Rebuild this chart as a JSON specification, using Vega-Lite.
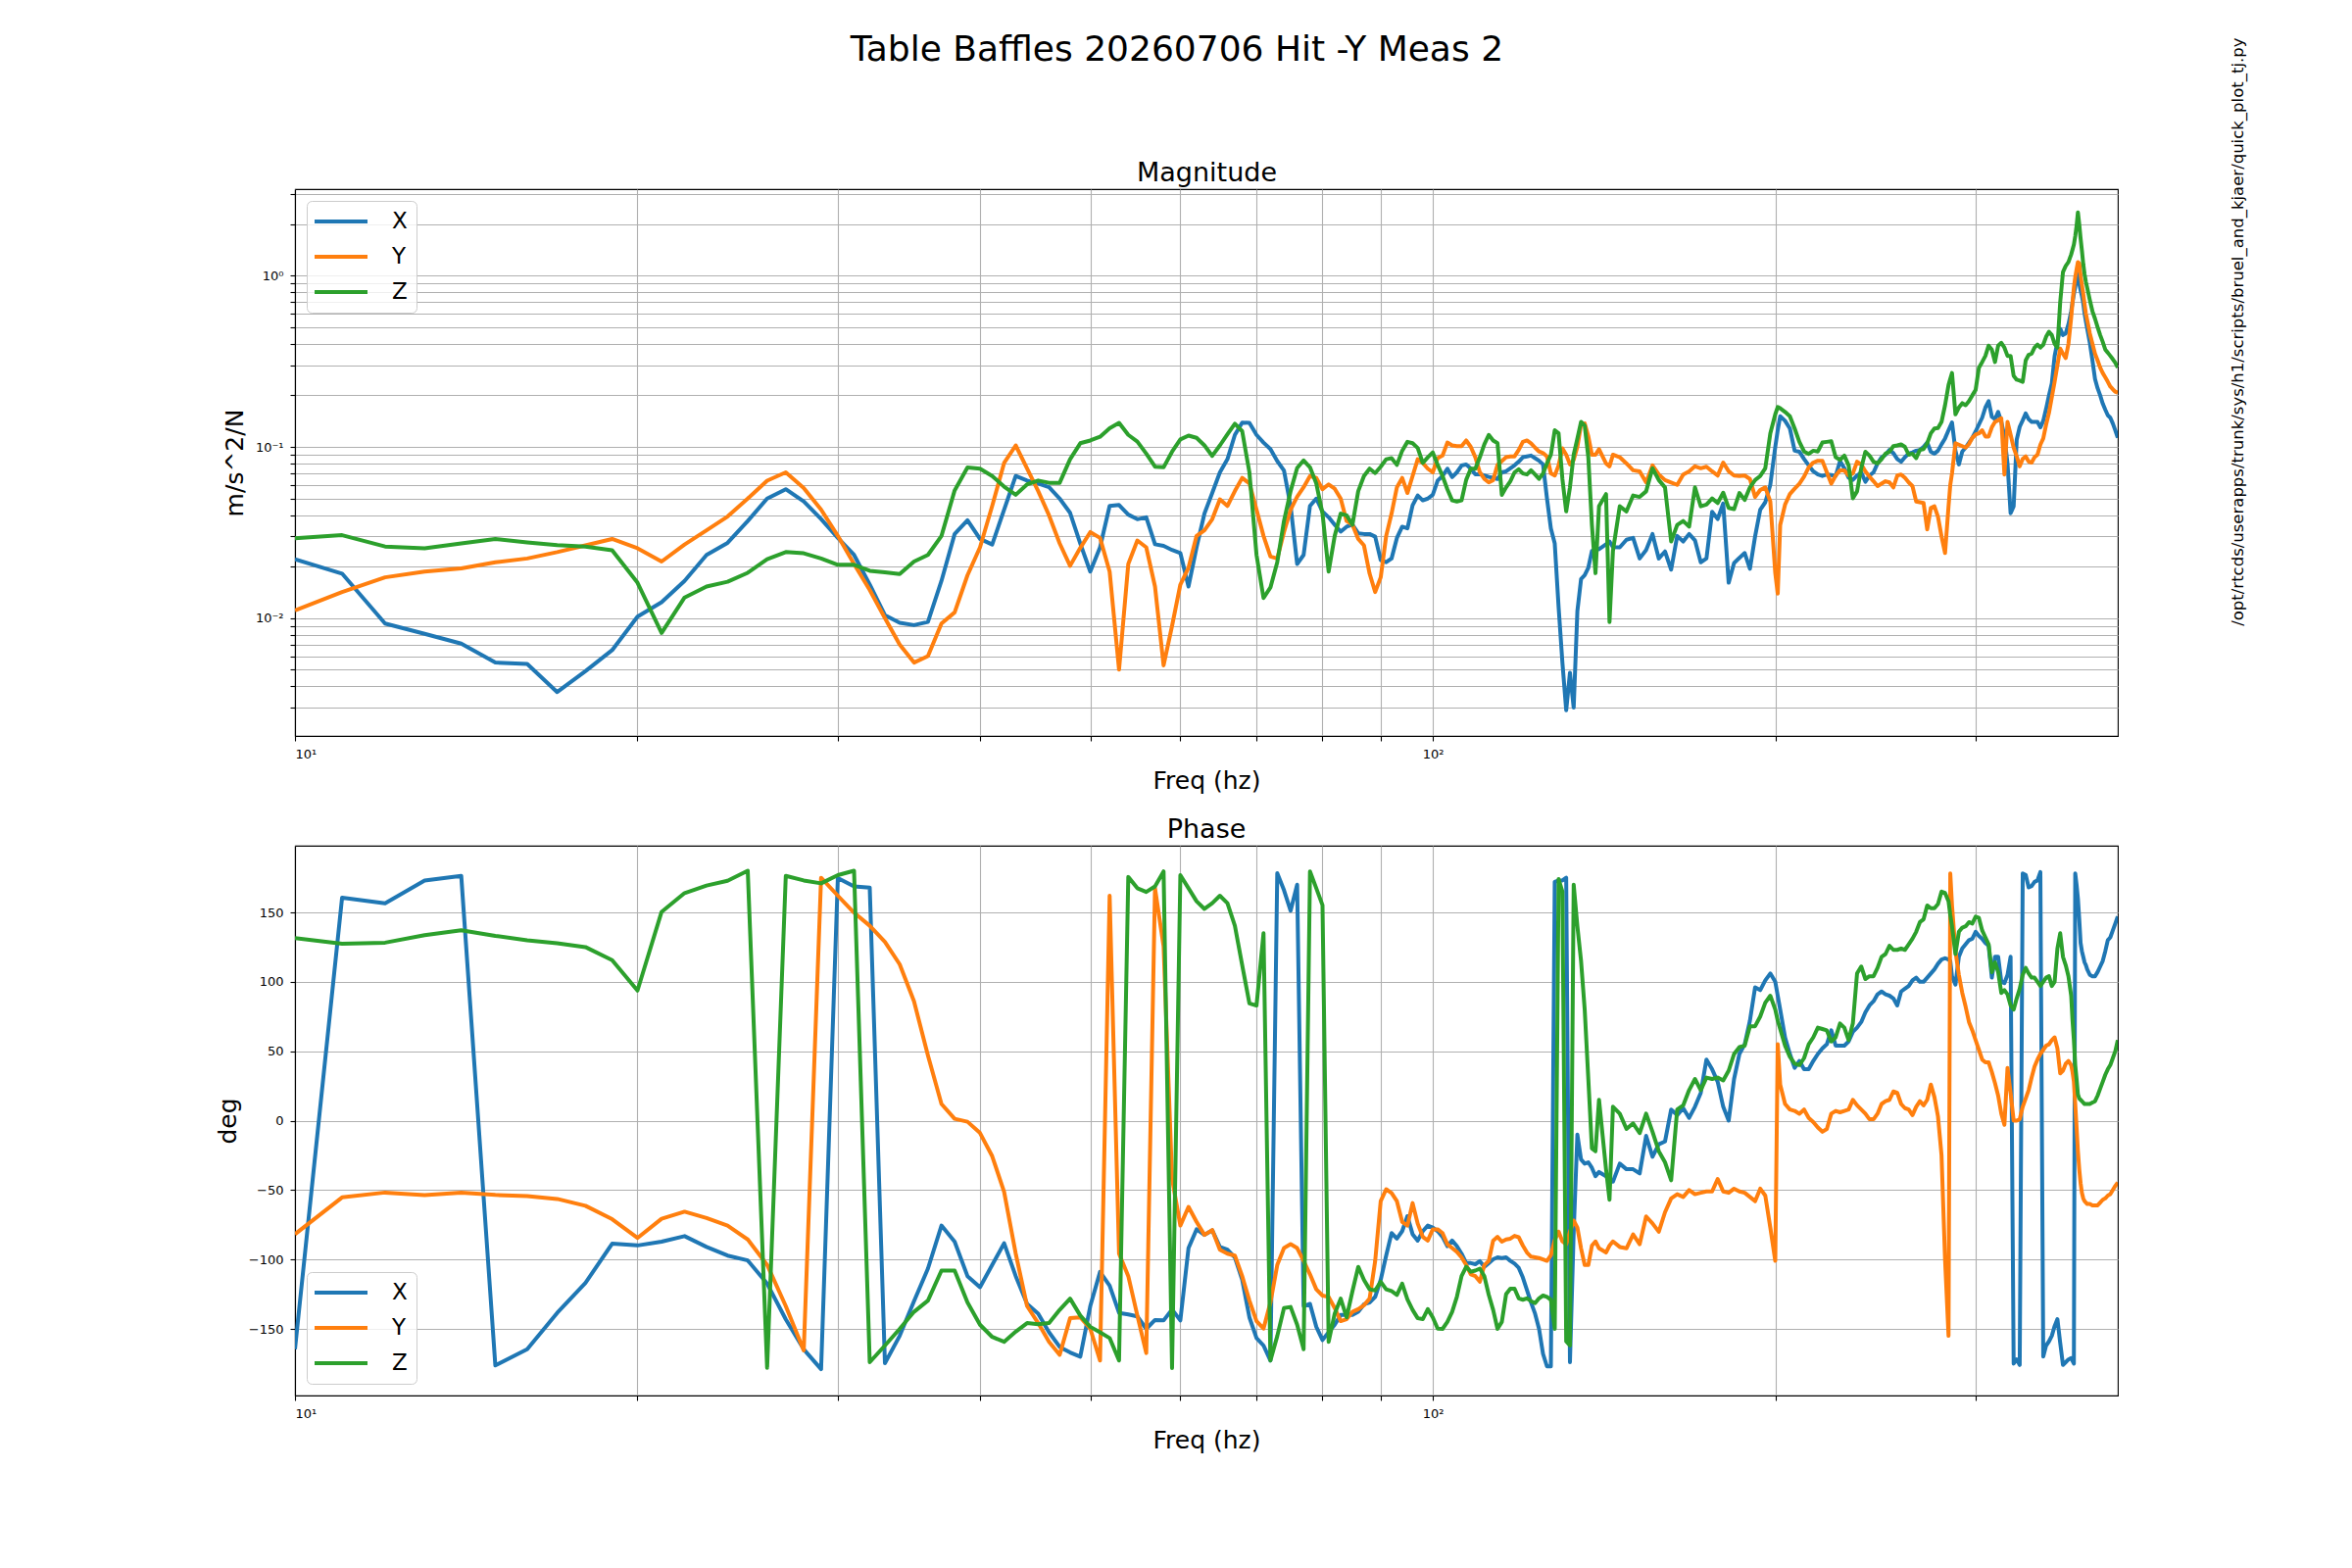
{
  "$schema": "https://vega.github.io/schema/vega-lite/v6.json",
  "background": "white",
  "padding": {"left": 219, "top": 33, "right": 10, "bottom": 10},
  "title": {"text": "Table Baffles 20260706 Hit -Y Meas 2", "fontSize": 36, "fontWeight": "normal", "font": "DejaVu Sans", "anchor": "middle", "offset": -33, "dx": -55},
  "config": {
    "font": "DejaVu Sans",
    "view": {"stroke": "#000000", "strokeWidth": 1.1},
    "axis": {
      "grid": true, "gridColor": "#b0b0b0", "gridWidth": 1.1,
      "domainColor": "#000000", "domainWidth": 1.1,
      "tickColor": "#000000", "tickWidth": 1.1, "tickSize": 5,
      "labelColor": "#000000", "labelFontSize": 13, "labelPadding": 7, "labelOverlap": false, "labelFont": "DejaVu Sans",
      "titleColor": "#000000", "titleFontSize": 25, "titleFontWeight": "normal", "titleFont": "DejaVu Sans"
    },
    "title": {"font": "DejaVu Sans", "fontSize": 27, "fontWeight": "normal", "color": "#000000"},
    "legend": {
      "title": null, "symbolType": "M-2.7,0H2.7", "symbolSize": 400, "symbolStrokeWidth": 4, "symbolOffset": 14,
      "labelFontSize": 23, "labelFont": "DejaVu Sans", "labelColor": "#000000", "labelOffset": 40,
      "rowPadding": 12, "padding": 9, "offset": 12,
      "strokeColor": "#cccccc", "fillColor": "rgba(255,255,255,0.8)", "cornerRadius": 5
    }
  },
  "datasets": {
    "mag": [
      {"f":10,"X":0.0221,"Y":0.0111,"Z":0.0293},{"f":11,"X":0.0182,"Y":0.0142,"Z":0.0305},{"f":12,"X":0.0093,"Y":0.0173,"Z":0.0262},
      {"f":13,"X":0.0081,"Y":0.0187,"Z":0.0256},{"f":14,"X":0.0071,"Y":0.0195,"Z":0.0273},{"f":15,"X":0.0055,"Y":0.0212,"Z":0.029},
      {"f":16,"X":0.0054,"Y":0.0223,"Z":0.0277},{"f":17,"X":0.0037,"Y":0.0243,"Z":0.0267},{"f":18,"X":0.0049,"Y":0.0266,"Z":0.0262},
      {"f":19,"X":0.0065,"Y":0.029,"Z":0.0249},{"f":20,"X":0.0102,"Y":0.0256,"Z":0.0161},{"f":21,"X":0.0124,"Y":0.0214,"Z":0.0082},
      {"f":22,"X":0.0165,"Y":0.0269,"Z":0.0132},{"f":23,"X":0.0234,"Y":0.0326,"Z":0.0153},{"f":24,"X":0.0275,"Y":0.0392,"Z":0.0163},
      {"f":25,"X":0.0369,"Y":0.0499,"Z":0.0184},{"f":26,"X":0.0499,"Y":0.0635,"Z":0.0221},{"f":27,"X":0.0566,"Y":0.071,"Z":0.0243},
      {"f":28,"X":0.048,"Y":0.0575,"Z":0.0239},{"f":29,"X":0.0379,"Y":0.043,"Z":0.0223},{"f":30,"X":0.0294,"Y":0.0302,"Z":0.0205},
      {"f":31,"X":0.0234,"Y":0.0207,"Z":0.0205},{"f":32,"X":0.0157,"Y":0.0146,"Z":0.0189},{"f":33,"X":0.0104,"Y":0.01,"Z":0.0185},
      {"f":34,"X":0.0094,"Y":0.007,"Z":0.0181},{"f":35,"X":0.0091,"Y":0.0055,"Z":0.0214},{"f":36,"X":0.0095,"Y":0.006,"Z":0.0234},
      {"f":37,"X":0.0165,"Y":0.0093,"Z":0.0302},{"f":38,"X":0.031,"Y":0.0108,"Z":0.0557},{"f":39,"X":0.0373,"Y":0.0178,"Z":0.0758},
      {"f":40,"X":0.029,"Y":0.0259,"Z":0.0746},{"f":41,"X":0.0269,"Y":0.0452,"Z":0.0676},{"f":42,"X":0.043,"Y":0.0805,"Z":0.0586},
      {"f":43,"X":0.0676,"Y":0.102,"Z":0.0525},{"f":44,"X":0.0636,"Y":0.0746,"Z":0.0604},{"f":45,"X":0.0611,"Y":0.0552,"Z":0.0636},
      {"f":46,"X":0.0581,"Y":0.0398,"Z":0.0617},{"f":47,"X":0.0499,"Y":0.0273,"Z":0.0617},{"f":48,"X":0.0412,"Y":0.0202,"Z":0.0847},
      {"f":49,"X":0.0273,"Y":0.0257,"Z":0.105},{"f":50,"X":0.0187,"Y":0.0318,"Z":0.109},{"f":51,"X":0.0259,"Y":0.0294,"Z":0.1146},
      {"f":52,"X":0.0452,"Y":0.0187,"Z":0.1285},{"f":53,"X":0.0458,"Y":0.005,"Z":0.138},{"f":54,"X":0.0402,"Y":0.0207,"Z":0.1175},
      {"f":55,"X":0.0378,"Y":0.0284,"Z":0.1074},{"f":56,"X":0.0388,"Y":0.0259,"Z":0.0913},{"f":57,"X":0.027,"Y":0.0153,"Z":0.0766},
      {"f":58,"X":0.0264,"Y":0.0053,"Z":0.076},{"f":59,"X":0.025,"Y":0.009,"Z":0.0937},{"f":60,"X":0.024,"Y":0.0157,"Z":0.1106},
      {"f":61,"X":0.0153,"Y":0.0197,"Z":0.1164},{"f":62,"X":0.0259,"Y":0.0302,"Z":0.113},{"f":63,"X":0.0408,"Y":0.0326,"Z":0.102},
      {"f":64,"X":0.0538,"Y":0.0378,"Z":0.0886},{"f":65,"X":0.071,"Y":0.0494,"Z":0.102},{"f":66,"X":0.0847,"Y":0.0452,"Z":0.1186},
      {"f":67,"X":0.1175,"Y":0.0552,"Z":0.1367},{"f":68,"X":0.1386,"Y":0.0659,"Z":0.1235},{"f":69,"X":0.138,"Y":0.0611,"Z":0.071},
      {"f":70,"X":0.1175,"Y":0.043,"Z":0.0234},{"f":71,"X":0.106,"Y":0.0302,"Z":0.0131},{"f":72,"X":0.097,"Y":0.0229,"Z":0.0151},
      {"f":73,"X":0.0826,"Y":0.0223,"Z":0.0212},{"f":74,"X":0.0728,"Y":0.0318,"Z":0.0369},{"f":75,"X":0.0452,"Y":0.043,"Z":0.0552},
      {"f":76,"X":0.0207,"Y":0.0512,"Z":0.0754},{"f":77,"X":0.0234,"Y":0.0581,"Z":0.0834},{"f":78,"X":0.0452,"Y":0.0676,"Z":0.076},
      {"f":79,"X":0.0499,"Y":0.0659,"Z":0.0611},{"f":80,"X":0.0419,"Y":0.0566,"Z":0.0408},{"f":81,"X":0.0388,"Y":0.0604,"Z":0.0187},
      {"f":82,"X":0.0351,"Y":0.057,"Z":0.0302},{"f":83,"X":0.032,"Y":0.0499,"Z":0.0408},{"f":84,"X":0.0342,"Y":0.0369,"Z":0.0398},
      {"f":85,"X":0.0351,"Y":0.0351,"Z":0.0351},{"f":86,"X":0.0313,"Y":0.029,"Z":0.0552},{"f":87,"X":0.031,"Y":0.0266,"Z":0.0676},
      {"f":88,"X":0.031,"Y":0.0182,"Z":0.0746},{"f":89,"X":0.0299,"Y":0.0142,"Z":0.0703},{"f":90,"X":0.0218,"Y":0.0173,"Z":0.0766},
      {"f":91,"X":0.0212,"Y":0.0302,"Z":0.0847},{"f":92,"X":0.0223,"Y":0.0408,"Z":0.086},{"f":93,"X":0.0294,"Y":0.0581,"Z":0.0785},
      {"f":94,"X":0.0342,"Y":0.0659,"Z":0.095},{"f":95,"X":0.0334,"Y":0.0538,"Z":0.107},{"f":96,"X":0.0456,"Y":0.0676,"Z":0.105},
      {"f":97,"X":0.052,"Y":0.0847,"Z":0.0985},{"f":98,"X":0.0487,"Y":0.0805,"Z":0.0805},{"f":99,"X":0.0499,"Y":0.0746,"Z":0.087},
      {"f":100,"X":0.0525,"Y":0.071,"Z":0.0928},{"f":101,"X":0.0636,"Y":0.086,"Z":0.0785},{"f":102,"X":0.0676,"Y":0.089,"Z":0.0676},
      {"f":103,"X":0.0746,"Y":0.106,"Z":0.0566},{"f":104,"X":0.0666,"Y":0.102,"Z":0.0487},{"f":105,"X":0.071,"Y":0.101,"Z":0.048},
      {"f":106,"X":0.0778,"Y":0.101,"Z":0.0487},{"f":107,"X":0.079,"Y":0.109,"Z":0.0642},{"f":108,"X":0.0746,"Y":0.1,"Z":0.0746},
      {"f":109,"X":0.0692,"Y":0.087,"Z":0.0746},{"f":110,"X":0.0692,"Y":0.071,"Z":0.087},{"f":111,"X":0.068,"Y":0.065,"Z":0.1035},
      {"f":112,"X":0.0668,"Y":0.062,"Z":0.1175},{"f":113,"X":0.066,"Y":0.064,"Z":0.109},{"f":114,"X":0.0649,"Y":0.0785,"Z":0.105},
      {"f":115,"X":0.071,"Y":0.0826,"Z":0.0525},{"f":116,"X":0.072,"Y":0.087,"Z":0.058},{"f":117,"X":0.075,"Y":0.088,"Z":0.063},
      {"f":118,"X":0.078,"Y":0.088,"Z":0.071},{"f":119,"X":0.082,"Y":0.096,"Z":0.074},{"f":120,"X":0.087,"Y":0.107,"Z":0.07},
      {"f":121,"X":0.088,"Y":0.109,"Z":0.069},{"f":122,"X":0.089,"Y":0.105,"Z":0.073},{"f":123,"X":0.086,"Y":0.099,"Z":0.069},
      {"f":124,"X":0.083,"Y":0.094,"Z":0.065},{"f":125,"X":0.079,"Y":0.092,"Z":0.07},{"f":126,"X":0.05,"Y":0.088,"Z":0.08},
      {"f":127,"X":0.0334,"Y":0.07,"Z":0.09},{"f":128,"X":0.0273,"Y":0.068,"Z":0.125},{"f":129,"X":0.0116,"Y":0.078,"Z":0.12},
      {"f":130,"X":0.0055,"Y":0.098,"Z":0.065},{"f":131,"X":0.0029,"Y":0.09,"Z":0.042},{"f":132,"X":0.0048,"Y":0.079,"Z":0.058},
      {"f":133,"X":0.003,"Y":0.084,"Z":0.09},{"f":134,"X":0.011,"Y":0.1,"Z":0.112},{"f":135,"X":0.0169,"Y":0.135,"Z":0.14},
      {"f":136,"X":0.0178,"Y":0.137,"Z":0.133},{"f":137,"X":0.0197,"Y":0.115,"Z":0.087},{"f":138,"X":0.0247,"Y":0.09,"Z":0.035},
      {"f":139,"X":0.025,"Y":0.09,"Z":0.0183},{"f":140,"X":0.0253,"Y":0.097,"Z":0.045},{"f":142,"X":0.027,"Y":0.08,"Z":0.053},
      {"f":143,"X":0.028,"Y":0.077,"Z":0.0095},{"f":144,"X":0.026,"Y":0.09,"Z":0.0247},{"f":146,"X":0.0259,"Y":0.087,"Z":0.045},
      {"f":148,"X":0.0287,"Y":0.08,"Z":0.042},{"f":150,"X":0.0294,"Y":0.073,"Z":0.052},{"f":152,"X":0.0223,"Y":0.072,"Z":0.051},
      {"f":154,"X":0.025,"Y":0.062,"Z":0.055},{"f":156,"X":0.031,"Y":0.078,"Z":0.075},{"f":158,"X":0.0223,"Y":0.069,"Z":0.064},
      {"f":160,"X":0.0245,"Y":0.064,"Z":0.058},{"f":162,"X":0.0192,"Y":0.062,"Z":0.028},{"f":164,"X":0.0302,"Y":0.06,"Z":0.035},
      {"f":166,"X":0.028,"Y":0.069,"Z":0.0369},{"f":168,"X":0.031,"Y":0.072,"Z":0.0342},{"f":170,"X":0.0285,"Y":0.077,"Z":0.058},
      {"f":172,"X":0.0212,"Y":0.075,"Z":0.045},{"f":174,"X":0.0223,"Y":0.0766,"Z":0.046},{"f":176,"X":0.0418,"Y":0.072,"Z":0.05},
      {"f":178,"X":0.0379,"Y":0.068,"Z":0.047},{"f":180,"X":0.0467,"Y":0.081,"Z":0.054},{"f":182,"X":0.0161,"Y":0.072,"Z":0.044},
      {"f":184,"X":0.021,"Y":0.068,"Z":0.0433},{"f":186,"X":0.0225,"Y":0.0676,"Z":0.0538},{"f":188,"X":0.024,"Y":0.068,"Z":0.049},
      {"f":190,"X":0.0194,"Y":0.065,"Z":0.058},{"f":192,"X":0.03,"Y":0.051,"Z":0.064},{"f":194,"X":0.043,"Y":0.056,"Z":0.0676},
      {"f":196,"X":0.0475,"Y":0.058,"Z":0.075},{"f":198,"X":0.06,"Y":0.048,"Z":0.12},{"f":200,"X":0.1,"Y":0.0183,"Z":0.155},
      {"f":201,"X":0.125,"Y":0.0139,"Z":0.171},{"f":202,"X":0.151,"Y":0.035,"Z":0.168},{"f":204,"X":0.142,"Y":0.046,"Z":0.16},
      {"f":206,"X":0.128,"Y":0.053,"Z":0.151},{"f":208,"X":0.095,"Y":0.057,"Z":0.128},{"f":210,"X":0.0937,"Y":0.061,"Z":0.107},
      {"f":212,"X":0.085,"Y":0.067,"Z":0.094},{"f":214,"X":0.078,"Y":0.076,"Z":0.091},{"f":216,"X":0.072,"Y":0.081,"Z":0.095},
      {"f":218,"X":0.069,"Y":0.083,"Z":0.094},{"f":220,"X":0.0676,"Y":0.083,"Z":0.106},{"f":222,"X":0.069,"Y":0.071,"Z":0.107},
      {"f":224,"X":0.0685,"Y":0.061,"Z":0.108},{"f":226,"X":0.0676,"Y":0.068,"Z":0.087},{"f":228,"X":0.0826,"Y":0.073,"Z":0.084},
      {"f":230,"X":0.075,"Y":0.073,"Z":0.089},{"f":232,"X":0.066,"Y":0.068,"Z":0.078},{"f":234,"X":0.0642,"Y":0.07,"Z":0.05},
      {"f":236,"X":0.068,"Y":0.082,"Z":0.055},{"f":238,"X":0.071,"Y":0.079,"Z":0.075},{"f":240,"X":0.0626,"Y":0.072,"Z":0.0937},
      {"f":242,"X":0.068,"Y":0.067,"Z":0.089},{"f":244,"X":0.071,"Y":0.063,"Z":0.082},{"f":246,"X":0.08,"Y":0.059,"Z":0.08},
      {"f":248,"X":0.0869,"Y":0.061,"Z":0.0847},{"f":250,"X":0.09,"Y":0.063,"Z":0.0913},{"f":252,"X":0.096,"Y":0.062,"Z":0.0937},
      {"f":254,"X":0.092,"Y":0.058,"Z":0.101},{"f":256,"X":0.085,"Y":0.068,"Z":0.102},{"f":258,"X":0.0818,"Y":0.069,"Z":0.1035},
      {"f":260,"X":0.087,"Y":0.066,"Z":0.1},{"f":262,"X":0.0913,"Y":0.062,"Z":0.09},{"f":264,"X":0.093,"Y":0.059,"Z":0.0913},
      {"f":266,"X":0.095,"Y":0.048,"Z":0.086},{"f":268,"X":0.096,"Y":0.0475,"Z":0.096},{"f":270,"X":0.1,"Y":0.047,"Z":0.097},
      {"f":272,"X":0.106,"Y":0.033,"Z":0.105},{"f":274,"X":0.0937,"Y":0.044,"Z":0.12},{"f":276,"X":0.0913,"Y":0.045,"Z":0.128},
      {"f":278,"X":0.095,"Y":0.039,"Z":0.129},{"f":280,"X":0.1035,"Y":0.03,"Z":0.14},{"f":282,"X":0.112,"Y":0.024,"Z":0.175},
      {"f":284,"X":0.125,"Y":0.045,"Z":0.23},{"f":285,"X":0.132,"Y":0.06,"Z":0.25},{"f":286,"X":0.139,"Y":0.07,"Z":0.27},
      {"f":288,"X":0.095,"Y":0.105,"Z":0.155},{"f":290,"X":0.079,"Y":0.103,"Z":0.17},{"f":292,"X":0.094,"Y":0.101,"Z":0.18},
      {"f":294,"X":0.099,"Y":0.099,"Z":0.175},{"f":296,"X":0.106,"Y":0.104,"Z":0.185},{"f":298,"X":0.113,"Y":0.113,"Z":0.2},
      {"f":300,"X":0.123,"Y":0.118,"Z":0.215},{"f":302,"X":0.135,"Y":0.12,"Z":0.29},{"f":304,"X":0.148,"Y":0.125,"Z":0.313},
      {"f":306,"X":0.17,"Y":0.115,"Z":0.34},{"f":308,"X":0.185,"Y":0.115,"Z":0.39},{"f":310,"X":0.15,"Y":0.13,"Z":0.37},
      {"f":312,"X":0.145,"Y":0.14,"Z":0.313},{"f":314,"X":0.16,"Y":0.143,"Z":0.39},{"f":316,"X":0.14,"Y":0.147,"Z":0.405},
      {"f":318,"X":0.115,"Y":0.069,"Z":0.38},{"f":320,"X":0.08,"Y":0.14,"Z":0.34},{"f":322,"X":0.041,"Y":0.118,"Z":0.34},
      {"f":324,"X":0.045,"Y":0.099,"Z":0.26},{"f":326,"X":0.11,"Y":0.088,"Z":0.247},{"f":328,"X":0.131,"Y":0.077,"Z":0.244},
      {"f":330,"X":0.143,"Y":0.085,"Z":0.24},{"f":332,"X":0.157,"Y":0.088,"Z":0.32},{"f":334,"X":0.145,"Y":0.082,"Z":0.345},
      {"f":336,"X":0.14,"Y":0.081,"Z":0.35},{"f":338,"X":0.14,"Y":0.087,"Z":0.38},{"f":340,"X":0.14,"Y":0.09,"Z":0.396},
      {"f":342,"X":0.13,"Y":0.103,"Z":0.38},{"f":344,"X":0.142,"Y":0.112,"Z":0.395},{"f":346,"X":0.167,"Y":0.135,"Z":0.44},
      {"f":348,"X":0.2,"Y":0.158,"Z":0.47},{"f":350,"X":0.235,"Y":0.195,"Z":0.45},{"f":352,"X":0.339,"Y":0.24,"Z":0.4},
      {"f":354,"X":0.41,"Y":0.3,"Z":0.38},{"f":356,"X":0.49,"Y":0.375,"Z":0.7},{"f":358,"X":0.45,"Y":0.35,"Z":1.05},
      {"f":360,"X":0.46,"Y":0.33,"Z":1.14},{"f":362,"X":0.52,"Y":0.4,"Z":1.2},{"f":364,"X":0.62,"Y":0.57,"Z":1.33},
      {"f":365,"X":0.7,"Y":0.7,"Z":1.42},{"f":366,"X":0.78,"Y":0.85,"Z":1.52},{"f":367,"X":0.86,"Y":0.98,"Z":1.7},
      {"f":368,"X":0.94,"Y":1.09,"Z":1.95},{"f":369,"X":1.02,"Y":1.2,"Z":2.34},{"f":370,"X":0.9,"Y":1.18,"Z":2.0},
      {"f":371,"X":0.82,"Y":1.0,"Z":1.65},{"f":372,"X":0.76,"Y":0.88,"Z":1.4},{"f":373,"X":0.69,"Y":0.785,"Z":1.17},
      {"f":374,"X":0.6,"Y":0.68,"Z":1.02},{"f":375,"X":0.54,"Y":0.6,"Z":0.92},{"f":376,"X":0.49,"Y":0.55,"Z":0.85},
      {"f":378,"X":0.405,"Y":0.46,"Z":0.72},{"f":380,"X":0.32,"Y":0.4,"Z":0.62},{"f":382,"X":0.249,"Y":0.35,"Z":0.56},
      {"f":384,"X":0.22,"Y":0.32,"Z":0.5},{"f":386,"X":0.2,"Y":0.29,"Z":0.45},{"f":388,"X":0.179,"Y":0.27,"Z":0.41},
      {"f":390,"X":0.165,"Y":0.255,"Z":0.37},{"f":392,"X":0.153,"Y":0.24,"Z":0.355},{"f":394,"X":0.148,"Y":0.225,"Z":0.34},
      {"f":396,"X":0.137,"Y":0.217,"Z":0.325},{"f":398,"X":0.125,"Y":0.21,"Z":0.31},{"f":400,"X":0.113,"Y":0.207,"Z":0.291}
    ],
    "phase": [
      {"f":10,"X":-164.7,"Y":-81.8,"Z":131.5},{"f":11,"X":160.6,"Y":-55.3,"Z":127.4},{"f":12,"X":156.6,"Y":-51.8,"Z":128.2},
      {"f":13,"X":173,"Y":-53.7,"Z":133.6},{"f":14,"X":176.3,"Y":-51.8,"Z":137.1},{"f":15,"X":-176.3,"Y":-53.5,"Z":133.1},
      {"f":16,"X":-164.7,"Y":-54.3,"Z":129.9},{"f":17,"X":-138.5,"Y":-56.4,"Z":127.7},{"f":18,"X":-116.9,"Y":-61.3,"Z":125},
      {"f":19,"X":-88.6,"Y":-71,"Z":115.6},{"f":20,"X":-89.9,"Y":-84.5,"Z":93.7},{"f":21,"X":-87.2,"Y":-70.7,"Z":150.4},
      {"f":22,"X":-83.2,"Y":-65.6,"Z":163.9},{"f":23,"X":-91,"Y":-70.2,"Z":169.3},{"f":24,"X":-97.2,"Y":-75.6,"Z":172.8},
      {"f":25,"X":-100.7,"Y":-85.6,"Z":180},{"f":26,"X":-117.4,"Y":-103.9,"Z":-178},{"f":27,"X":-143.1,"Y":-133.6,"Z":176.3},
      {"f":28,"X":-164.7,"Y":-165.5,"Z":173},{"f":29,"X":-179,"Y":174.9,"Z":170.9},{"f":30,"X":174.7,"Y":162,"Z":176.8},
      {"f":31,"X":168.7,"Y":149.8,"Z":180},{"f":32,"X":167.9,"Y":140.4,"Z":-174},{"f":33,"X":-174.7,"Y":128.8,"Z":-162},
      {"f":34,"X":-155,"Y":112.6,"Z":-150},{"f":35,"X":-130,"Y":86,"Z":-137.7},{"f":36,"X":-106.6,"Y":47,"Z":-129.6},
      {"f":37,"X":-75.6,"Y":12,"Z":-108},{"f":38,"X":-87.2,"Y":1.3,"Z":-108},{"f":39,"X":-112,"Y":-0.8,"Z":-131},
      {"f":40,"X":-120,"Y":-8.9,"Z":-147},{"f":41,"X":-104,"Y":-25.6,"Z":-155.8},{"f":42,"X":-88.3,"Y":-51.3,"Z":-159.3},
      {"f":43,"X":-112,"Y":-95.8,"Z":-152},{"f":44,"X":-132,"Y":-133.6,"Z":-145.8},{"f":45,"X":-139,"Y":-145.8,"Z":-146.6},
      {"f":46,"X":-152.5,"Y":-159.3,"Z":-145.8},{"f":47,"X":-163,"Y":-168.7,"Z":-136.3},{"f":48,"X":-167,"Y":-142.3,"Z":-128.2},
      {"f":49,"X":-170,"Y":-141.7,"Z":-140.4},{"f":50,"X":-133.6,"Y":-149.8,"Z":-148.5},{"f":51,"X":-109,"Y":-172.8,"Z":-152.5},
      {"f":52,"X":-118.8,"Y":162,"Z":-156.6},{"f":53,"X":-138.5,"Y":-95.8,"Z":-172.8},{"f":54,"X":-139.6,"Y":-112,"Z":175.5},
      {"f":55,"X":-141,"Y":-140.4,"Z":167.4},{"f":56,"X":-150,"Y":-167.4,"Z":164.7},{"f":57,"X":-143.6,"Y":167.4,"Z":168.7},
      {"f":58,"X":-143.9,"Y":125.5,"Z":179.5},{"f":59,"X":-136,"Y":-41.8,"Z":-178.2},{"f":60,"X":-143.9,"Y":-75.6,"Z":176.8},
      {"f":61,"X":-91.8,"Y":-62.1,"Z":167.4},{"f":62,"X":-78.3,"Y":-72.9,"Z":158},{"f":63,"X":-82.3,"Y":-82.3,"Z":152.5},
      {"f":64,"X":-79,"Y":-78.8,"Z":156.6},{"f":65,"X":-91,"Y":-93,"Z":162},{"f":66,"X":-93,"Y":-95.8,"Z":156.6},
      {"f":67,"X":-98.5,"Y":-97.2,"Z":140.4},{"f":68,"X":-114.7,"Y":-112,"Z":112},{"f":69,"X":-141.7,"Y":-129.6,"Z":84.5},
      {"f":70,"X":-156.6,"Y":-144.4,"Z":82.9},{"f":71,"X":-162,"Y":-149.8,"Z":135},{"f":72,"X":-172.8,"Y":-131,"Z":-172.8},
      {"f":73,"X":178.2,"Y":-104,"Z":-155.2},{"f":74,"X":166,"Y":-91.8,"Z":-135},{"f":75,"X":151.2,"Y":-89,"Z":-134.2},
      {"f":76,"X":170,"Y":-91.8,"Z":-147},{"f":77,"X":-133.6,"Y":-101,"Z":-164.7},{"f":78,"X":-132,"Y":-110.7,"Z":179.5},
      {"f":79,"X":-148.5,"Y":-121.5,"Z":167.4},{"f":80,"X":-158,"Y":-126,"Z":155.2},{"f":81,"X":-152.5,"Y":-127,"Z":-159.3},
      {"f":82,"X":-147,"Y":-135,"Z":-139},{"f":83,"X":-140,"Y":-144.4,"Z":-128.2},{"f":84,"X":-140,"Y":-143,"Z":-141.7},
      {"f":85,"X":-140,"Y":-137.7,"Z":-122.8},{"f":86,"X":-137.7,"Y":-135.8,"Z":-105.3},{"f":87,"X":-132.3,"Y":-133,"Z":-114.7},
      {"f":88,"X":-131,"Y":-128.2,"Z":-121.5},{"f":89,"X":-126.9,"Y":-101,"Z":-122.3},{"f":90,"X":-114.7,"Y":-58,"Z":-116},
      {"f":91,"X":-97.2,"Y":-49.4,"Z":-121.5},{"f":92,"X":-81,"Y":-52.1,"Z":-122.8},{"f":93,"X":-85,"Y":-58,"Z":-125.5},
      {"f":94,"X":-79.6,"Y":-72.9,"Z":-117.4},{"f":95,"X":-68.8,"Y":-75.6,"Z":-128.8},{"f":96,"X":-81.8,"Y":-59.4,"Z":-136.3},
      {"f":97,"X":-86.4,"Y":-74.2,"Z":-142.3},{"f":98,"X":-79.6,"Y":-83.7,"Z":-143},{"f":99,"X":-75.6,"Y":-86.4,"Z":-135.8},
      {"f":100,"X":-77,"Y":-78.3,"Z":-141.7},{"f":101,"X":-79.6,"Y":-78.3,"Z":-149.8},{"f":102,"X":-83.7,"Y":-81,"Z":-150},
      {"f":103,"X":-90.4,"Y":-89,"Z":-145},{"f":104,"X":-86.4,"Y":-91.8,"Z":-137.7},{"f":105,"X":-90.4,"Y":-94.5,"Z":-126.9},
      {"f":106,"X":-95.8,"Y":-98.5,"Z":-112},{"f":107,"X":-102.6,"Y":-104,"Z":-105.3},{"f":108,"X":-102.6,"Y":-110.7,"Z":-108.8},
      {"f":109,"X":-103.4,"Y":-112,"Z":-108},{"f":110,"X":-101.2,"Y":-116,"Z":-106.6},{"f":111,"X":-105.3,"Y":-104,"Z":-112},
      {"f":112,"X":-102.6,"Y":-101,"Z":-125.5},{"f":113,"X":-99.9,"Y":-86.4,"Z":-136.3},{"f":114,"X":-98.5,"Y":-83.7,"Z":-150},
      {"f":115,"X":-99,"Y":-87.2,"Z":-145},{"f":116,"X":-98.5,"Y":-85.6,"Z":-125},{"f":117,"X":-101,"Y":-85,"Z":-121},
      {"f":118,"X":-103,"Y":-83,"Z":-121},{"f":119,"X":-106,"Y":-84,"Z":-128},{"f":120,"X":-113,"Y":-90,"Z":-129},
      {"f":121,"X":-122,"Y":-95,"Z":-128},{"f":122,"X":-131,"Y":-98,"Z":-130},{"f":123,"X":-139,"Y":-98.5,"Z":-131.5},
      {"f":124,"X":-150,"Y":-99,"Z":-128},{"f":125,"X":-168,"Y":-100,"Z":-126},{"f":126,"X":-177,"Y":-101,"Z":-127},
      {"f":127,"X":-177,"Y":-97,"Z":-129},{"f":128,"X":172,"Y":-86,"Z":-150},{"f":129,"X":173,"Y":-80,"Z":174},
      {"f":130,"X":173,"Y":-87,"Z":165},{"f":131,"X":175,"Y":-89,"Z":-159},{"f":132,"X":-174,"Y":-80,"Z":-162},
      {"f":133,"X":-80,"Y":-72,"Z":170},{"f":134,"X":-10,"Y":-77,"Z":140},{"f":135,"X":-28,"Y":-92,"Z":115},
      {"f":136,"X":-31,"Y":-104,"Z":80},{"f":137,"X":-30,"Y":-104,"Z":30},{"f":138,"X":-34,"Y":-90,"Z":-20},
      {"f":139,"X":-40,"Y":-87,"Z":-22},{"f":140,"X":-37,"Y":-92,"Z":15},{"f":142,"X":-40,"Y":-95,"Z":-35},
      {"f":143,"X":-44,"Y":-90,"Z":-57},{"f":144,"X":-44,"Y":-87,"Z":10},{"f":146,"X":-31,"Y":-91,"Z":5},
      {"f":148,"X":-35,"Y":-92,"Z":-6},{"f":150,"X":-35,"Y":-82,"Z":-2},{"f":152,"X":-38,"Y":-89,"Z":-9},
      {"f":154,"X":-11,"Y":-69,"Z":5},{"f":156,"X":-26,"Y":-74,"Z":-8},{"f":158,"X":-17,"Y":-80,"Z":-22},
      {"f":160,"X":-15,"Y":-66,"Z":-30},{"f":162,"X":8,"Y":-56,"Z":-43},{"f":164,"X":4,"Y":-53,"Z":8},
      {"f":166,"X":9,"Y":-55,"Z":11},{"f":168,"X":2,"Y":-50,"Z":22},{"f":170,"X":10,"Y":-53,"Z":30},
      {"f":172,"X":20,"Y":-52,"Z":22},{"f":174,"X":44,"Y":-51,"Z":31},{"f":176,"X":37,"Y":-51,"Z":30},
      {"f":178,"X":28,"Y":-42,"Z":31},{"f":180,"X":10,"Y":-51,"Z":29},{"f":182,"X":0,"Y":-52,"Z":36},
      {"f":184,"X":30,"Y":-49,"Z":48},{"f":186,"X":48,"Y":-51,"Z":53},{"f":188,"X":55,"Y":-52,"Z":54},
      {"f":190,"X":72,"Y":-55,"Z":68},{"f":192,"X":96,"Y":-58,"Z":68},{"f":194,"X":94,"Y":-49,"Z":75},
      {"f":196,"X":101,"Y":-54,"Z":85},{"f":198,"X":106,"Y":-77,"Z":90},{"f":200,"X":100,"Y":-101,"Z":80},
      {"f":201,"X":90,"Y":55,"Z":72},{"f":202,"X":80,"Y":26,"Z":66},{"f":204,"X":60,"Y":12,"Z":54},
      {"f":206,"X":48,"Y":8,"Z":46},{"f":208,"X":38,"Y":7,"Z":41},{"f":210,"X":43,"Y":5,"Z":40},
      {"f":212,"X":37,"Y":8,"Z":45},{"f":214,"X":37,"Y":2,"Z":55},{"f":216,"X":43,"Y":-1,"Z":60},
      {"f":218,"X":48,"Y":-5,"Z":67},{"f":220,"X":52,"Y":-8,"Z":66},{"f":222,"X":55,"Y":-6,"Z":65},
      {"f":224,"X":65,"Y":5,"Z":57},{"f":226,"X":54,"Y":7,"Z":60},{"f":228,"X":54,"Y":6,"Z":70},
      {"f":230,"X":54,"Y":7,"Z":67},{"f":232,"X":57,"Y":8,"Z":58},{"f":234,"X":64,"Y":15,"Z":70},
      {"f":236,"X":67,"Y":11,"Z":106},{"f":238,"X":71,"Y":8,"Z":111},{"f":240,"X":78,"Y":5,"Z":102},
      {"f":242,"X":83,"Y":1,"Z":104},{"f":244,"X":86,"Y":1,"Z":104},{"f":246,"X":91,"Y":5,"Z":110},
      {"f":248,"X":93,"Y":12,"Z":118},{"f":250,"X":91,"Y":14,"Z":120},{"f":252,"X":90,"Y":15,"Z":126},
      {"f":254,"X":88,"Y":21,"Z":123},{"f":256,"X":83,"Y":20,"Z":123},{"f":258,"X":93,"Y":12,"Z":124},
      {"f":260,"X":95,"Y":9,"Z":123},{"f":262,"X":97,"Y":8,"Z":127},{"f":264,"X":101,"Y":4,"Z":131},
      {"f":266,"X":103,"Y":10,"Z":136},{"f":268,"X":100,"Y":14,"Z":143},{"f":270,"X":100,"Y":11,"Z":145},
      {"f":272,"X":103,"Y":15,"Z":155},{"f":274,"X":106,"Y":26,"Z":153},{"f":276,"X":109,"Y":17,"Z":153},
      {"f":278,"X":113,"Y":3,"Z":156},{"f":280,"X":116,"Y":-25,"Z":165},{"f":282,"X":117,"Y":-100,"Z":164},
      {"f":284,"X":116,"Y":-155,"Z":158},{"f":285,"X":115,"Y":178,"Z":148},{"f":286,"X":104,"Y":155,"Z":140},
      {"f":288,"X":98,"Y":122,"Z":120},{"f":290,"X":118,"Y":105,"Z":136},{"f":292,"X":124,"Y":92,"Z":139},
      {"f":294,"X":127,"Y":82,"Z":140},{"f":296,"X":130,"Y":71,"Z":143},{"f":298,"X":131,"Y":65,"Z":142},
      {"f":300,"X":136,"Y":58,"Z":147},{"f":302,"X":133,"Y":51,"Z":146},{"f":304,"X":131,"Y":44,"Z":137},
      {"f":306,"X":128,"Y":42,"Z":132},{"f":308,"X":126,"Y":42,"Z":127},{"f":310,"X":103,"Y":35,"Z":107},
      {"f":312,"X":118,"Y":27,"Z":114},{"f":314,"X":118,"Y":18,"Z":107},{"f":316,"X":100,"Y":5,"Z":92},
      {"f":318,"X":99,"Y":-3,"Z":94},{"f":320,"X":105,"Y":38,"Z":91},{"f":322,"X":118,"Y":20,"Z":83},
      {"f":324,"X":-175,"Y":0,"Z":80},{"f":326,"X":-172,"Y":0,"Z":88},{"f":328,"X":-176,"Y":1,"Z":95},
      {"f":330,"X":178,"Y":10,"Z":105},{"f":332,"X":177,"Y":16,"Z":110},{"f":334,"X":168,"Y":22,"Z":106},
      {"f":336,"X":169,"Y":31,"Z":103},{"f":338,"X":172,"Y":39,"Z":103},{"f":340,"X":173,"Y":44,"Z":100},
      {"f":342,"X":179,"Y":48,"Z":97},{"f":344,"X":-170,"Y":51,"Z":100},{"f":346,"X":-162,"Y":54,"Z":103},
      {"f":348,"X":-159,"Y":55,"Z":104},{"f":350,"X":-155,"Y":58,"Z":97},{"f":352,"X":-148,"Y":60,"Z":100},
      {"f":354,"X":-143,"Y":52,"Z":124},{"f":356,"X":-160,"Y":34,"Z":135},{"f":358,"X":-176,"Y":36,"Z":118},
      {"f":360,"X":-174,"Y":41,"Z":112},{"f":362,"X":-172,"Y":43,"Z":104},{"f":364,"X":-171,"Y":40,"Z":90},
      {"f":365,"X":-173,"Y":35,"Z":72},{"f":366,"X":-175,"Y":28,"Z":58},{"f":367,"X":178,"Y":12,"Z":40},
      {"f":368,"X":170,"Y":-5,"Z":30},{"f":369,"X":160,"Y":-22,"Z":19},{"f":370,"X":145,"Y":-35,"Z":16},
      {"f":371,"X":128,"Y":-45,"Z":15},{"f":372,"X":122,"Y":-52,"Z":14},{"f":373,"X":118,"Y":-56,"Z":13},
      {"f":374,"X":114,"Y":-58,"Z":12},{"f":375,"X":112,"Y":-59,"Z":12},{"f":376,"X":109,"Y":-60,"Z":12},
      {"f":378,"X":105,"Y":-60,"Z":12},{"f":380,"X":104,"Y":-61,"Z":13},{"f":382,"X":104,"Y":-61,"Z":14},
      {"f":384,"X":107,"Y":-61,"Z":18},{"f":386,"X":111,"Y":-59,"Z":23},{"f":388,"X":115,"Y":-57,"Z":28},
      {"f":390,"X":122,"Y":-56,"Z":33},{"f":392,"X":130,"Y":-54,"Z":37},{"f":394,"X":132,"Y":-53,"Z":40},
      {"f":396,"X":137,"Y":-50,"Z":45},{"f":398,"X":142,"Y":-47,"Z":50},{"f":400,"X":147,"Y":-44.5,"Z":58}
    ]
  },
  "spacing": 22,
  "resolve": {"scale": {"color": "independent"}, "legend": {"color": "independent"}},
  "vconcat": [
    {
      "width": 1860,
      "height": 558,
      "data": {"name": "mag"},
      "transform": [{"fold": ["X", "Y", "Z"], "as": ["series", "value"]}],
      "resolve": {"axis": {"x": "independent", "y": "independent"}},
      "layer": [
        {
          "mark": {"type": "line", "strokeWidth": 4, "strokeJoin": "round", "clip": true},
          "encoding": {
            "x": {
              "field": "f", "type": "quantitative",
              "scale": {"type": "log", "domain": [10, 400], "nice": false},
              "axis": {
                "title": "Freq (hz)", "titlePadding": 8,
                "values": [10, 20, 30, 40, 50, 60, 70, 80, 90, 100, 200, 300],
                "labelExpr": "datum.value == 10 ? '10¹' : datum.value == 100 ? '10²' : ''"
              }
            },
            "y": {
              "field": "value", "type": "quantitative",
              "scale": {"type": "log", "domain": [0.00205, 3.2], "nice": false},
              "axis": {
                "title": "m/s^2/N", "titlePadding": 8,
                "values": [0.003, 0.004, 0.005, 0.006, 0.007, 0.008, 0.009, 0.01, 0.02, 0.03, 0.04, 0.05, 0.06, 0.07, 0.08, 0.09, 0.1, 0.2, 0.3, 0.4, 0.5, 0.6, 0.7, 0.8, 0.9, 1, 2, 3],
                "labelExpr": "datum.value == 1 ? '10⁰' : datum.value == 0.1 ? '10⁻¹' : datum.value == 0.01 ? '10⁻²' : ''"
              }
            },
            "color": {
              "field": "series", "type": "nominal",
              "scale": {"domain": ["X", "Y", "Z"], "range": ["#1f77b4", "#ff7f0e", "#2ca02c"]},
              "legend": {"orient": "top-left"}
            }
          }
        },
        {
          "mark": {"type": "rule", "opacity": 0},
          "encoding": {
            "y": {
              "aggregate": "max", "field": "value", "type": "quantitative",
              "scale": {"type": "log", "domain": [0.00205, 3.2], "nice": false},
              "axis": {
                "orient": "right", "title": "/opt/rtcds/userapps/trunk/sys/h1/scripts/bruel_and_kjaer/quick_plot_tj.py",
                "labels": false, "ticks": false, "domain": false, "grid": false,
                "titleFontSize": 16.5, "titleAngle": 270, "titleAlign": "right", "titleBaseline": "middle",
                "titleX": 122, "titleY": -155
              }
            }
          }
        },
        {
          "mark": {"type": "rule", "opacity": 0},
          "encoding": {
            "x": {
              "aggregate": "max", "field": "f", "type": "quantitative",
              "scale": {"type": "log", "domain": [10, 400], "nice": false},
              "axis": {
                "orient": "top", "title": "Magnitude",
                "labels": false, "ticks": false, "domain": false, "grid": false,
                "titleFontSize": 27, "titlePadding": 3
              }
            }
          }
        }
      ]
    },
    {
      "width": 1860,
      "height": 561,
      "title": {"text": "Phase", "offset": 2},
      "data": {"name": "phase"},
      "transform": [{"fold": ["X", "Y", "Z"], "as": ["series", "value"]}],
      "mark": {"type": "line", "strokeWidth": 4, "strokeJoin": "round", "clip": true},
      "encoding": {
        "x": {
          "field": "f", "type": "quantitative",
          "scale": {"type": "log", "domain": [10, 400], "nice": false},
          "axis": {
            "title": "Freq (hz)", "titlePadding": 8,
            "values": [10, 20, 30, 40, 50, 60, 70, 80, 90, 100, 200, 300],
            "labelExpr": "datum.value == 10 ? '10¹' : datum.value == 100 ? '10²' : ''"
          }
        },
        "y": {
          "field": "value", "type": "quantitative",
          "scale": {"domain": [-198, 198], "nice": false, "zero": false},
          "axis": {"title": "deg", "titlePadding": 8, "values": [-150, -100, -50, 0, 50, 100, 150]}
        },
        "color": {
          "field": "series", "type": "nominal",
          "scale": {"domain": ["X", "Y", "Z"], "range": ["#1f77b4", "#ff7f0e", "#2ca02c"]},
          "legend": {"orient": "bottom-left"}
        }
      }
    }
  ]
}
